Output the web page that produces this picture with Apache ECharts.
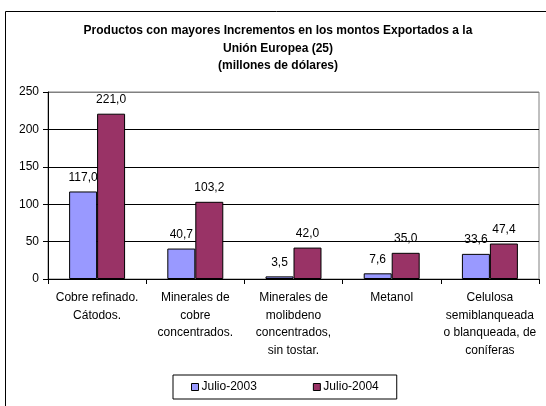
<!DOCTYPE html>
<html>
<head>
<meta charset="utf-8">
<script src="https://cdn.jsdelivr.net/npm/echarts@6/dist/echarts.min.js"></script>
<style>html,body{margin:0;padding:0;background:#fff;}#c{width:546px;height:406px;}</style>
</head>
<body>
<div id="c"></div>
<script>
var categories = [
  'Cobre refinado.\nCátodos.',
  'Minerales de\ncobre\nconcentrados.',
  'Minerales de\nmolibdeno\nconcentrados,\nsin tostar.',
  'Metanol',
  'Celulosa\nsemiblanqueada\no blanqueada, de\nconíferas'
];
var seriesNames = ['Julio-2003', 'Julio-2004'];
var julio2003 = [117.0, 40.7, 3.5, 7.6, 33.6];
var julio2004 = [221.0, 103.2, 42.0, 35.0, 47.4];
var yTicks = [0, 50, 100, 150, 200, 250];

var FONT = '"Liberation Sans", Arial, sans-serif';
function fmt(p) { return p.value.toFixed(1).replace('.', ','); }

var chart = echarts.init(document.getElementById('c'), null, {renderer: 'canvas'});
chart.setOption({
  animation: false,
  textStyle: {fontFamily: FONT, color: '#000'},
  title: {
    text: 'Productos con mayores Incrementos en los montos Exportados a la\nUnión Europea (25)\n(millones de dólares)',
    left: 273, top: 17, textAlign: 'center',
    textStyle: {fontFamily: FONT, fontSize: 12, fontWeight: 'bold', color: '#000', lineHeight: 17.5}
  },
  graphic: [{
    type: 'rect', silent: true, z: -1,
    shape: {x: 5.5, y: 11.5, width: 600, height: 500},
    style: {fill: 'none', stroke: '#000', lineWidth: 1}
  }],
  grid: {left: 48, right: 7, top: 92, bottom: 127, show: true, borderColor: '#808080', borderWidth: 1},
  legend: {
    data: seriesNames,
    left: 173, top: 375,
    itemWidth: 7, itemHeight: 7, itemGap: 56,
    padding: [6, 18, 6, 18],
    borderColor: '#000', borderWidth: 1,
    icon: 'rect',
    itemStyle: {borderColor: '#000', borderWidth: 1},
    textStyle: {fontFamily: FONT, fontSize: 12, color: '#000', padding: [0, 0, 0, -2]}
  },
  xAxis: {
    type: 'category', data: categories,
    axisLine: {lineStyle: {color: '#000', width: 1}},
    axisTick: {show: true, length: 5, lineStyle: {color: '#000'}},
    axisLabel: {interval: 0, margin: 10, fontSize: 12, color: '#000', lineHeight: 17.5, fontFamily: FONT}
  },
  yAxis: {
    type: 'value', min: yTicks[0], max: yTicks[yTicks.length - 1], interval: 50,
    axisLine: {show: true, lineStyle: {color: '#000', width: 1}},
    axisTick: {show: true, length: 5, lineStyle: {color: '#000'}},
    axisLabel: {margin: 9, fontSize: 12, color: '#000', fontFamily: FONT},
    splitLine: {show: true, lineStyle: {color: ['#000', '#000', '#000', '#000', '#000', '#808080'], width: 1}}
  },
  series: [{
    name: seriesNames[0], type: 'bar', data: julio2003,
    barGap: '0%', barCategoryGap: '43%',
    itemStyle: {color: '#9999FF', borderColor: '#000', borderWidth: 1},
    label: {show: true, position: 'top', distance: 8, formatter: fmt, fontSize: 12, color: '#000', fontFamily: FONT}
  }, {
    name: seriesNames[1], type: 'bar', data: julio2004,
    barGap: '0%', barCategoryGap: '43%',
    itemStyle: {color: '#993366', borderColor: '#000', borderWidth: 1},
    label: {show: true, position: 'top', distance: 8, formatter: fmt, fontSize: 12, color: '#000', fontFamily: FONT}
  }]
});
</script>
</body>
</html>
